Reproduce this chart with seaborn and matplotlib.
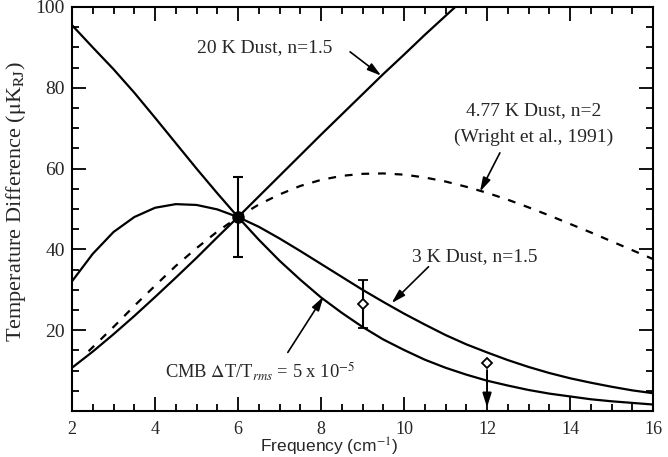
import matplotlib
matplotlib.use("Agg")
import matplotlib.pyplot as plt
from matplotlib.ticker import MultipleLocator
import seaborn as sns
import pandas as pd

# Valores (frecuencia en cm^-1, diferencia de temperatura en uK_RJ)
freq = [2.0, 2.5, 3.0, 3.5, 4.0, 4.5, 5.0, 5.5, 6.0, 6.5, 7.0, 7.5, 8.0, 8.5, 9.0,
        9.5, 10.0, 10.5, 11.0, 11.5, 12.0, 12.5, 13.0, 13.5, 14.0, 14.5, 15.0, 15.5, 16.0]
cmb = [95.5, 90.0, 84.6, 78.8, 72.6, 66.3, 60.0, 53.9, 48.0, 42.4, 37.2, 32.5, 28.1, 24.3, 20.8,
       17.7, 15.1, 12.7, 10.7, 9.0, 7.5, 6.3, 5.2, 4.3, 3.6, 2.9, 2.4, 2.0, 1.6]
dust_3k = [32.1, 38.9, 44.3, 48.0, 50.3, 51.2, 51.0, 49.9, 48.0, 45.6, 42.7, 39.6, 36.4, 33.2, 30.0,
           27.0, 24.1, 21.4, 18.8, 16.5, 14.5, 12.6, 10.9, 9.4, 8.1, 7.0, 6.0, 5.1, 4.4]

freq_20k = freq[:20]
dust_20k = [10.7, 14.7, 19.0, 23.5, 28.2, 33.0, 37.9, 43.0, 48.0, 53.1, 58.2, 63.3, 68.4, 73.4, 78.4,
            83.4, 88.2, 93.1, 97.8, 102.5]

freq_477 = [2.4] + freq[2:]
dust_477 = [14.8, 20.8, 26.0, 31.0, 35.9, 40.3, 44.4, 48.0, 51.1, 53.6, 55.7, 57.2, 58.2, 58.7,
            58.8, 58.5, 57.8, 56.8, 55.5, 54.0, 52.3, 50.4, 48.4, 46.3, 44.2, 42.0, 39.8, 37.6]

# Medidas
det_x, det_y, det_err = [6.0], [48.0], [10.0]
med_x, med_y, med_err = [9.0], [26.5], [6.0]
lim_x, lim_y = [12.0], [11.8]

# Estilo
sns.set_theme(style="ticks")
plt.rcParams['font.family'] = ['Liberation Serif', 'DejaVu Serif']
plt.rcParams['mathtext.fontset'] = 'stix'
plt.rcParams['axes.linewidth'] = 1.5

fig = plt.figure(figsize=(6.68, 4.57), dpi=100)
ax = fig.add_axes([0.1078, 0.1007, 0.8698, 0.884])

lw = 1.6
sns.lineplot(data=pd.DataFrame({'f': freq_20k, 't': dust_20k}), x='f', y='t', ax=ax,
             color='black', lw=lw)
sns.lineplot(data=pd.DataFrame({'f': freq, 't': cmb}), x='f', y='t', ax=ax,
             color='black', lw=lw)
sns.lineplot(data=pd.DataFrame({'f': freq, 't': dust_3k}), x='f', y='t', ax=ax,
             color='black', lw=lw)
sns.lineplot(data=pd.DataFrame({'f': freq_477, 't': dust_477}), x='f', y='t', ax=ax,
             color='black', lw=lw, linestyle=(0, (3.5, 4)))

# Puntos con barras de error
ax.errorbar(det_x, det_y, yerr=det_err, fmt='o', color='black', ms=8,
            capsize=3.5, elinewidth=1.5, capthick=1.5, zorder=5)
ax.errorbar(med_x, med_y, yerr=med_err, fmt='D', color='black', mfc='white', ms=5,
            mew=1.3, capsize=3.5, elinewidth=1.5, capthick=1.5, zorder=5)
ax.plot(lim_x, lim_y, 'D', color='black', mfc='white', ms=5, mew=1.3, zorder=6)
ax.annotate('', xy=(lim_x[0], 0.2), xytext=(lim_x[0], lim_y[0] - 1.0),
            arrowprops=dict(arrowstyle='-|>,head_length=0.7,head_width=0.22',
                            color='black', lw=1.4))

# Etiquetas de las curvas
arrow = dict(arrowstyle='-|>,head_length=0.7,head_width=0.2', color='black', lw=1.2,
             shrinkA=0, shrinkB=0)
fs = 14
ax.text(5.01, 90.0, '20 K Dust, n=1.5', fontsize=fs, ha='left', va='center')
ax.annotate('', xy=(9.45, 83.0), xytext=(8.7, 88.9), arrowprops=arrow)

ax.text(13.13, 74.3, '4.77 K Dust, n=2', fontsize=fs, ha='center', va='center')
ax.text(13.13, 67.8, '(Wright et al., 1991)', fontsize=fs, ha='center', va='center')
ax.annotate('', xy=(11.83, 54.3), xytext=(12.31, 63.9), arrowprops=arrow)

ax.text(10.19, 38.2, '3 K Dust, n=1.5', fontsize=fs, ha='left', va='center')
ax.annotate('', xy=(9.7, 26.7), xytext=(10.59, 35.7), arrowprops=arrow)

ax.text(4.24, 9.7, r'CMB $\Delta$T/T$_{rms}$ = 5 x 10$^{-5}$', fontsize=13.3,
        ha='left', va='center')
ax.annotate('', xy=(8.06, 28.3), xytext=(7.2, 14.5), arrowprops=arrow)

# Ejes
ax.set_xlim(2, 16)
ax.set_ylim(0, 100)
ax.set_xticks([2, 4, 6, 8, 10, 12, 14, 16])
ax.set_yticks([20, 40, 60, 80, 100])
ax.xaxis.set_minor_locator(MultipleLocator(0.5))
ax.yaxis.set_minor_locator(MultipleLocator(5))
ax.tick_params(which='both', direction='in', top=True, right=True, color='black', width=1.3)
ax.tick_params(which='major', length=10)
ax.tick_params(which='minor', length=5)
ax.tick_params(axis='x', labelsize=13, pad=7)
ax.tick_params(axis='y', labelsize=14, pad=5)

ax.set_xlabel(r'Frequency (cm$^{-1}$)', fontsize=12.5, family=['Liberation Sans', 'DejaVu Sans'])
ax.xaxis.set_label_coords(0.442, -0.062)
ax.set_ylabel(r'Temperature Difference ($\mathrm{\mu}$K$_\mathrm{RJ}$)', fontsize=16)
ax.yaxis.set_label_coords(-0.076, 0.519)

for s in ax.spines.values():
    s.set_color('black')

fig.savefig('out.png', dpi=100)
